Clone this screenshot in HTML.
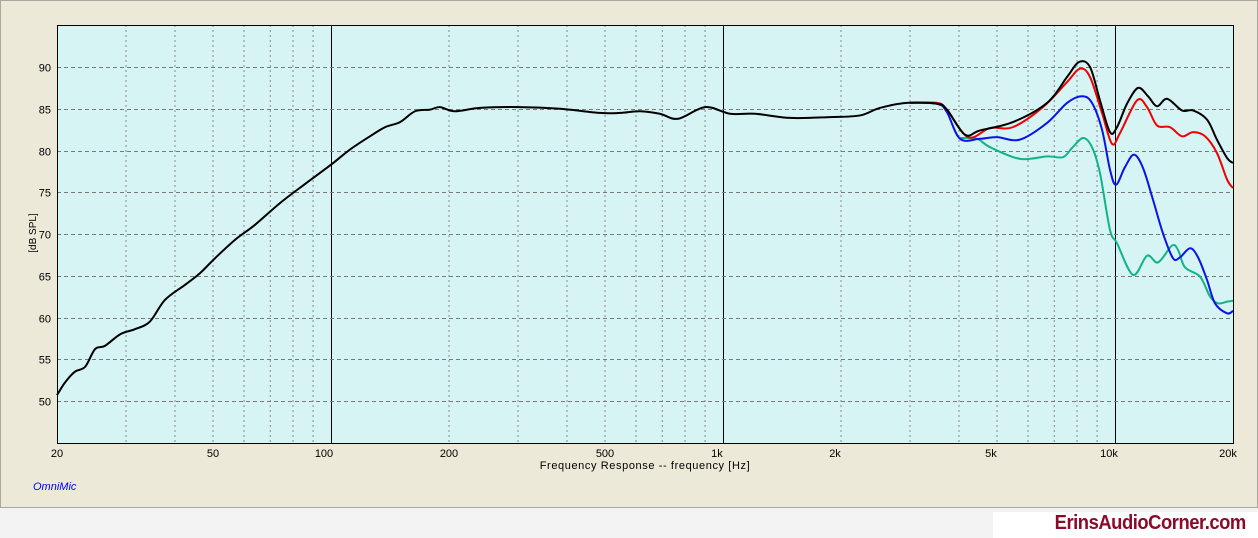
<!DOCTYPE html>
<html><head><meta charset="utf-8"><style>
html,body{margin:0;padding:0;width:1258px;height:538px;overflow:hidden;background:#f3f3f3;font-family:"Liberation Sans",sans-serif;}
#panel{position:absolute;left:0;top:0;width:1256px;height:506px;background:#ece9d8;border:1px solid #a8a8a0;}
#logo{position:absolute;left:993px;top:512px;width:265px;height:26px;background:#fff;}
#logo span{position:absolute;right:12px;top:0px;font:bold 20px "Liberation Sans Narrow","Liberation Sans",sans-serif;color:#8b0a2a;letter-spacing:-0.5px;transform:scaleX(0.92);transform-origin:right;}
</style></head><body>
<div id="panel"></div>
<div id="logo"><span>ErinsAudioCorner.com</span></div>
<svg id="chart" width="1258" height="538" style="position:absolute;left:0;top:0"></svg>
<script>
const yTicks=[50,55,60,65,70,75,80,85,90];
const xTickVals=[20,50,100,200,500,1000,2000,5000,10000,20000];
const xTickLabels=["20","50","100","200","500","1k","2k","5k","10k","20k"];
const blackF=[20,20.95,22.2,23.6,25,26.5,29,31.6,34.5,37.7,42.4,46.3,50.6,56.9,64,74.1,85.9,100,111.7,125.7,137.5,150,163.8,179,189.6,207,240,303,384,485,546,614,690,768,900,1042,1208,1484,1875,2236,2513,2946,3515,3725,4140,4525,5490,6710,7545,8095,8635,9155,9710,10120,10730,11450,12140,12800,13580,14820,15820,17170,18200,19320,20000];
const blackDb=[50.7,52.2,53.5,54.1,56.2,56.6,58,58.6,59.5,62.1,63.9,65.3,67.1,69.3,71.1,73.7,76,78.3,80.1,81.7,82.8,83.4,84.7,84.9,85.2,84.7,85.1,85.2,85,84.5,84.5,84.7,84.4,83.8,85.2,84.4,84.4,83.9,84,84.2,85.1,85.7,85.6,84.9,81.9,82.4,83.4,85.7,88.8,90.6,90,86,82.2,82.8,85.6,87.5,86.5,85.3,86.2,84.8,84.8,83.7,81.3,79.1,78.5];
const redF=[3000,3515,3725,4220,4800,5490,6550,7545,8140,8635,9265,9825,10300,11380,12070,12800,13810,14820,15820,16970,18200,19320,20000];
const redDb=[85.7,85.7,84.9,81.6,82.7,82.8,85.2,88.2,89.8,88.8,84.5,80.8,82.1,86,85.2,83,82.8,81.7,82.2,81.7,79.7,76.5,75.5];
const blueF=[3000,3515,3725,4025,4525,5000,5720,6710,7545,8240,8735,9265,9710,10060,10600,11180,11790,12500,13250,14060,14650,15540,16290,17170,17990,19320,20000];
const blueDb=[85.7,85.6,84.6,81.4,81.4,81.6,81.3,83.3,85.7,86.5,85.7,82.5,77.7,75.9,78,79.5,77.9,74.1,70.1,67.1,67.2,68.3,67.2,64.5,61.7,60.5,60.8];
const greenF=[4025,4445,4800,5720,6710,7365,7770,8290,8735,9155,9710,10120,11120,12070,12880,13970,14480,15090,16480,17480,18310,19320,20000];
const greenDb=[81.5,81.4,80.4,79,79.3,79.2,80.3,81.5,80.4,77.3,70.5,68.9,65.1,67.4,66.6,68.6,68.1,66,64.9,62.5,61.7,61.9,62];

const NS="http://www.w3.org/2000/svg";
const svg=document.getElementById('chart');
const L=57,R=1233,T=25,B=444;
const xs=f=>L+(R-L)*Math.log10(f/20)/3;
const ys=v=>67+(90-v)*8.35;
function mk(tag,attrs,parent){const e=document.createElementNS(NS,tag);for(const k in attrs)e.setAttribute(k,attrs[k]);(parent||svg).appendChild(e);return e;}
const bg=mk('rect',{x:L,y:T,width:R-L,height:B-T,fill:'#d6f4f4',stroke:'none'});


// minor vertical grid
for(let d=0;d<3;d++){for(let m=1;m<=9;m++){const f=20*Math.pow(10,d)*m/2;if(f<=20||f>=20000)continue;const dec=f/Math.pow(10,Math.floor(Math.log10(f)));if(Math.abs(dec-1)<1e-9)continue;
const g=mk('line',{x1:xs(f),x2:xs(f),y1:T,y2:B,stroke:'#8a8a8a','stroke-dasharray':'2,3','stroke-width':1});

}}
[100,1000,10000].forEach(f=>{const g=mk('line',{x1:xs(f)+0.5,x2:xs(f)+0.5,y1:T,y2:B,stroke:'#000','stroke-width':1});

});
yTicks.forEach(v=>{const y=Math.round(ys(v))+0.5;
const g=mk('line',{x1:L,x2:R,y1:y,y2:y,stroke:'#7a7a7a','stroke-dasharray':'4,3','stroke-width':1});


const t=mk('text',{x:L-6,y:y+4,'text-anchor':'end','font-size':11,fill:'#000'});t.textContent=v;

});
xTickVals.forEach((f,i)=>{let x=xs(f)-(f>=1000?6:(f==100?7:0));if(f==20000)x=1228;
const t=mk('text',{x:x,y:457,'text-anchor':'middle','font-size':11,fill:'#000'});t.textContent=xTickLabels[i];

});
const fr=mk('rect',{x:L+0.5,y:T+0.5,width:R-L,height:B-T-1,fill:'none',stroke:'#000','stroke-width':1});


function curve(F,D,color,name){const p=F.map((f,i)=>[xs(f),ys(D[i])]);let d='M'+p[0][0]+','+p[0][1];
for(let i=0;i<p.length-1;i++){const p0=p[Math.max(0,i-1)],p1=p[i],p2=p[i+1],p3=p[Math.min(p.length-1,i+2)];
d+=' C'+(p1[0]+(p2[0]-p0[0])/6)+','+(p1[1]+(p2[1]-p0[1])/6)+' '+(p2[0]-(p3[0]-p1[0])/6)+','+(p2[1]-(p3[1]-p1[1])/6)+' '+p2[0]+','+p2[1];}
const e=mk('path',{d:d,fill:'none',stroke:color,'stroke-width':2,'stroke-linejoin':'round'});

}
curve(greenF,greenDb,'#12b486','series-green');
curve(blueF,blueDb,'#0a14e6','series-blue');
curve(redF,redDb,'#f00000','series-red');
curve(blackF,blackDb,'#000','series-black');
const yt=mk('text',{x:0,y:0,transform:'translate(36,233) rotate(-90)','text-anchor':'middle','font-size':10,fill:'#000'});yt.textContent='[dB SPL]';


const xt=mk('text',{x:645,y:469,'text-anchor':'middle','font-size':11,fill:'#000','letter-spacing':'0.6'});xt.textContent='Frequency Response -- frequency [Hz]';


const om=mk('text',{x:33,y:490,'font-size':11,fill:'#0000ff','font-style':'italic'});om.textContent='OmniMic';


</script>
</body></html>
